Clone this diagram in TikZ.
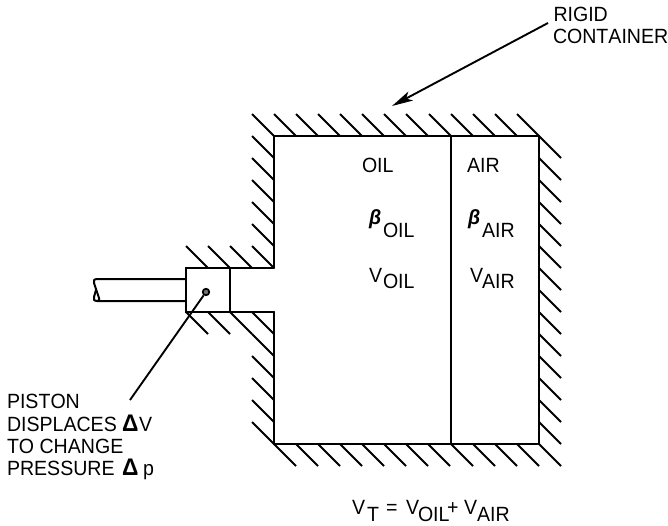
\documentclass[tikz,border=0pt]{standalone}
\usepackage{fontspec}
\setmainfont[Kerning=Off,FakeStretch=0.95]{Liberation Sans}
\usetikzlibrary{arrows.meta}
\tikzset{
  wall/.style={line width=2pt,line cap=round,line join=miter},
  hatch/.style={line width=1.8pt,line cap=butt},
  leader/.style={line width=1.9pt},
  lbl/.style={anchor=base west,inner sep=0pt,outer sep=0pt,font=\fontsize{20.6}{22}\selectfont,text=black},
  delta/.style={lbl,font=\fontsize{24}{24}\selectfont\bfseries}
}
\begin{document}
\begin{tikzpicture}[x=1pt,y=-1pt]
\useasboundingbox (0,0) rectangle (668,526);
% container outline
\draw[wall] (274,268) -- (274,136) -- (539,136) -- (539,444) -- (274,444) -- (274,312);
\draw[wall] (451,136) -- (451,444);
\draw[wall] (274,268) -- (186,268) -- (186,312) -- (274,312);
\draw[wall] (230,268) -- (230,312);
% rod
\draw[wall] (186,279) -- (97,279) .. controls (94,279) and (93,281) .. (94,283) -- (99,298) .. controls (100,300) and (99,301) .. (97,301);
\draw[wall] (186,301) -- (97,301) .. controls (94,301) and (93,299) .. (94,297) -- (96,290);
% top hatching
\foreach \x in {274,296,318,340,362,384,406,428,451,473,495,517,539}
  \draw[hatch] (\x,136) -- ++(-22,-22);
% right hatching
\foreach \y in {136,158,180,202,224,246,268,290,312,334,356,378,400,422,444}
  \draw[hatch] (539,\y) -- ++(22,22);
% bottom hatching
\foreach \x in {274,296,318,340,362,384,406,428,451,473,495,517}
  \draw[hatch] (\x,444) -- ++(22,22);
% left hatching
\foreach \y in {158,180,202,224,246,268,356,378,400,422,444}
  \draw[hatch] (274,\y) -- ++(-22,-22);
% channel hatching
\foreach \x in {208,230,252}
  \draw[hatch] (\x,268) -- ++(-22,-22);
\foreach \x in {186,208,230,252}
  \draw[hatch] (\x,312) -- ++(22,22);
% piston pin and leader
\node[circle,draw,fill=black!55,line width=1.7pt,minimum size=6.5pt,inner sep=0pt] (pin) at (206,292) {};
\coordinate (pistonend) at (130,400);
\draw[leader] (pin) -- (pistonend);
% arrow
\coordinate (arrowstart) at (548,23);
\coordinate (arrowtip) at (392,106);
\draw[leader,-{Stealth[length=21pt,width=10pt,inset=5pt]}] (arrowstart) -- (arrowtip);
% labels
\node[lbl] (rigid) at (553.5,21.7) {RIGID};
\node[lbl] (cont) at (553,44) {CONTAINER};
\node[lbl] (oil) at (362,173) {OIL};
\node[lbl] (air) at (467,173) {AIR};
\node[lbl] (b1) at (369,225) {\bfseries\itshape β};
\node[lbl] (b1s) at (383,238) {OIL};
\node[lbl] (b2) at (468,225) {\bfseries\itshape β};
\node[lbl] (b2s) at (482,238) {AIR};
\node[lbl] (v1) at (369,282) {V};
\node[lbl] (v1s) at (383,288) {OIL};
\node[lbl] (v2) at (470,282) {V};
\node[lbl] (v2s) at (482,288) {AIR};
\node[lbl] (p1) at (7,408) {PISTON};
\node[lbl] (p2) at (7,431) {DISPLACES};
\node[delta] (p2d) at (122,431) {Δ};
\node[lbl] (p2v) at (139,431) {V};
\node[lbl] (p3) at (7,453) {TO CHANGE};
\node[lbl] (p4) at (7,475) {PRESSURE};
\node[delta] (p4d) at (122,475) {Δ};
\node[lbl] (p4p) at (143,475) {p};
\node[lbl] (vt) at (352,514) {V};
\node[lbl] (vts) at (367,521) {T};
\node[lbl] (eq) at (386,514) {=};
\node[lbl] (vo) at (406,514) {V};
\node[lbl] (vos) at (418,521) {OIL};
\node[lbl] (pl) at (447,514) {+};
\node[lbl] (va) at (464,514) {V};
\node[lbl] (vas) at (477,521) {AIR};
\end{tikzpicture}
\end{document}
